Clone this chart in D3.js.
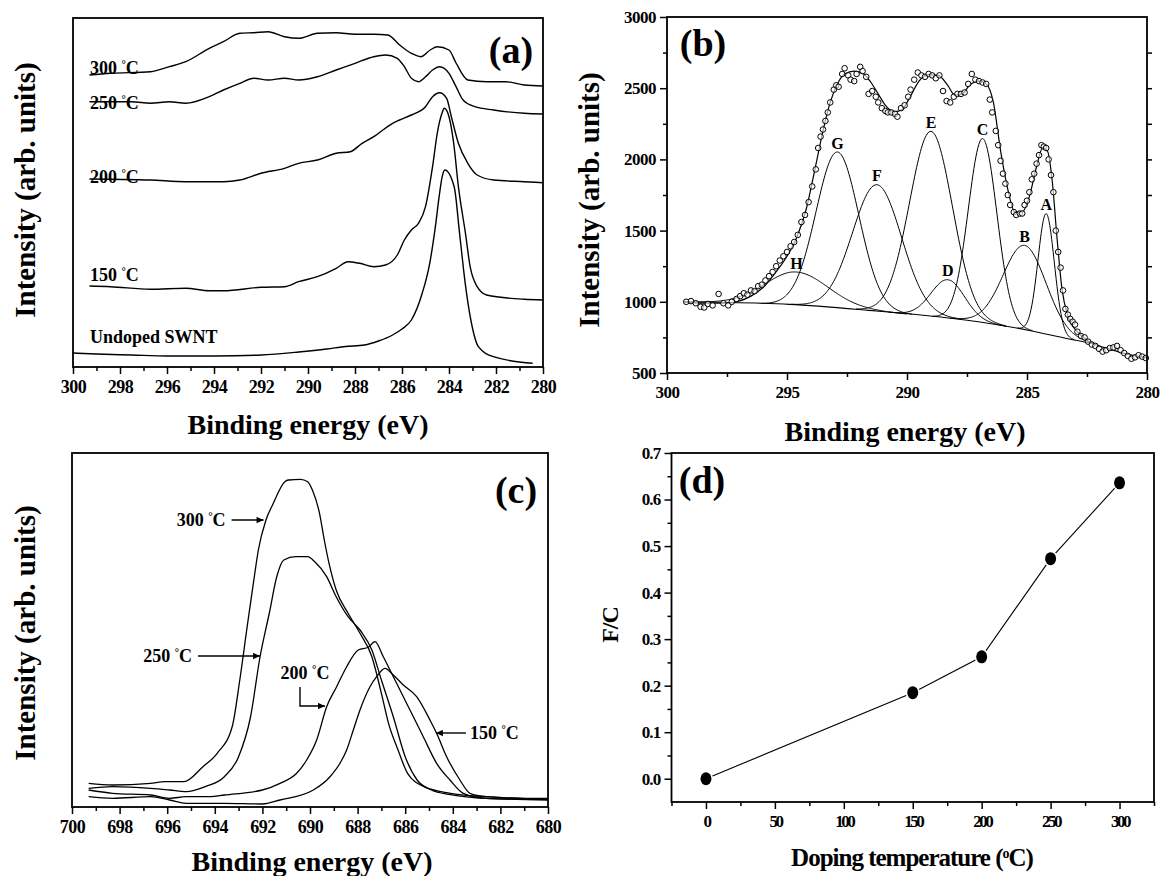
<!DOCTYPE html>
<html>
<head>
<meta charset="utf-8">
<script src="https://cdn.jsdelivr.net/npm/d3@7"></script>
<style>
  body { margin: 0; background: #fff; }
  text { font-family: "Liberation Serif", "Times New Roman", serif; font-weight: bold; fill: #000; }
</style>
</head>
<body>
<svg id="fig" width="1169" height="876"></svg>
<script>
// ---- panel (a): C 1s spectra, [binding energy, intensity] ----
const undopedA = [[300.0,14],[299.0,13],[297.5,12],[296,11],[294,11],[292,12],[290.4,15],[289.2,18],[288.4,20.5],
  [287.6,22],[287.0,26],[286.4,32],[286.0,38],[285.6,47],[285.14,73.7],[284.82,103.7],[284.58,140.3],[284.42,170.3],
  [284.29,190.3],[284.18,197],[283.78,180.3],[283.55,133.7],[283.31,83.7],[283.07,47],[282.75,20.3],[282.11,10.3],[280.44,3.7]];
const curve150A = [[299.3,81],[298.4,80.3],[296.7,77.7],[295.2,78.7],[294.2,76.3],[293.6,76.3],[292.0,79.7],[291.0,80.3],
  [290.4,85.3],[289.6,90.3],[288.8,98.7],[288.3,105.3],[287.8,103.7],[287.2,100.3],[286.7,102],[286.2,112],[285.9,127],
  [285.6,137],[285.3,143.7],[285.0,160.3],[284.7,200.3],[284.5,233.7],[284.3,253.7],[284.2,258.7],[284.0,250.3],
  [283.8,223.7],[283.6,180.3],[283.3,133.7],[283.1,100.3],[282.8,80.3],[282.4,72],[280.8,67.7],[280.0,67]];
const curve200A = [[299.3,188],[298.4,187.7],[296.7,187],[295.2,185.3],[293.6,185.3],[292.9,187],[292.0,193.7],[291.0,198.7],
  [290.4,203.7],[289.6,207],[288.8,213.7],[288.2,215.3],[287.7,223.7],[287.2,230.3],[286.4,243.7],[286.1,247],[285.6,252],
  [285.0,260.3],[284.7,270.3],[284.4,274.3],[284.1,268.7],[283.9,250.3],[283.6,223.7],[283.2,203.7],[282.8,192],
  [282.1,187],[280.8,185.3],[280.0,184.3]];
const curve250A = [[299.3,265.3],[298.4,265.3],[297.5,265.3],[296.7,263.7],[295.9,265.3],[295.2,263.7],[294.2,270.3],
  [293.6,277],[292.9,283.7],[292.3,288.7],[291.7,287],[291.0,288.7],[290.4,287],[289.6,290.3],[288.8,297],[288.0,303.7],
  [287.2,310.3],[286.7,312],[286.2,308.7],[285.9,300.3],[285.6,288.7],[285.3,285.3],[285.0,290.3],[284.7,297],[284.4,300.3],
  [284.0,293.7],[283.7,280.3],[283.4,267],[282.9,260.3],[282.1,257],[280.8,253.7],[280.0,253]];
const curve300A = [[299.3,292],[298.4,293.7],[296.7,295.3],[295.9,300.3],[295.2,305.3],[294.2,318.7],[293.6,325.3],
  [292.9,333.7],[292.3,334.3],[291.7,335.3],[291.0,330.3],[290.4,328.7],[289.6,333.7],[288.8,334.3],[288.0,332.7],
  [287.2,332.7],[286.6,332],[286.1,322],[285.6,313.7],[285.2,310.3],[284.8,317],[284.5,320.3],[284.0,317],[283.7,304],
  [283.2,287],[282.4,285.3],[281.6,285.3],[280.8,282],[280.0,281]];
const labelsA = ["300", "250", "200", "150", "Undoped SWNT"];
const labelValA = [293.5, 258.5, 184.5, 86.5, 24.5];

// ---- panel (b): C 1s peak fit at 300 C ----
const dataB = [[299.2,1000],[299.0,1005],[298.8,990],[298.6,965],[298.45,960],[298.3,985],[298.1,975],[297.85,1055],
  [297.65,990],[297.45,975],[297.3,1000],[297.1,1020],[296.95,1040],[296.8,1060],[296.65,1050],[296.5,1080],[296.35,1075],
  [296.2,1110],[296.05,1120],[295.9,1150],[295.75,1180],[295.6,1210],[295.45,1250],[295.3,1290],[295.15,1320],[295.0,1350],
  [294.85,1390],[294.7,1420],[294.55,1470],[294.4,1560],[294.25,1610],[294.1,1700],[293.95,1810],[293.8,1930],[293.7,2080],
  [293.6,2160],[293.5,2210],[293.4,2270],[293.3,2330],[293.2,2400],[293.05,2490],[292.95,2520],[292.85,2510],[292.7,2600],
  [292.6,2640],[292.45,2590],[292.35,2560],[292.2,2550],[292.1,2600],[291.95,2650],[291.85,2620],[291.7,2580],[291.6,2460],
  [291.45,2480],[291.3,2440],[291.2,2400],[291.05,2360],[290.9,2340],[290.8,2330],[290.65,2330],[290.5,2320],[290.4,2300],
  [290.25,2360],[290.1,2380],[289.95,2440],[289.85,2490],[289.7,2560],[289.55,2610],[289.4,2590],[289.25,2580],[289.1,2600],
  [288.95,2590],[288.8,2570],[288.65,2590],[288.5,2480],[288.35,2410],[288.2,2400],[288.05,2440],[287.9,2460],[287.75,2460],
  [287.6,2470],[287.45,2530],[287.3,2600],[287.15,2560],[287.0,2550],[286.85,2540],[286.7,2530],[286.55,2420],[286.45,2330],
  [286.3,2200],[286.2,2100],[286.1,1990],[286.0,1900],[285.9,1830],[285.8,1750],[285.7,1680],[285.55,1630],[285.45,1610],
  [285.3,1620],[285.2,1620],[285.1,1680],[285.0,1710],[284.9,1770],[284.8,1860],[284.7,1900],[284.6,1970],[284.5,2030],
  [284.4,2100],[284.3,2090],[284.2,2080],[284.1,2000],[284.0,1890],[283.9,1770],[283.8,1500],[283.7,1350],[283.6,1240],
  [283.5,1080],[283.4,950],[283.3,910],[283.2,880],[283.1,860],[283.0,840],[282.9,790],[282.75,760],[282.6,750],[282.45,720],
  [282.3,700],[282.15,690],[282.0,670],[281.85,650],[281.7,660],[281.55,675],[281.4,680],[281.25,690],[281.1,660],
  [280.95,640],[280.8,620],[280.65,600],[280.5,610],[280.35,625],[280.2,615],[280.05,605]];
const fitB = [[299.3,1000],[298.5,990],[297.6,990],[297.0,1005],[296.5,1040],[296.0,1100],[295.5,1200],[295.0,1320],
  [294.6,1450],[294.2,1650],[293.8,1960],[293.5,2200],[293.2,2400],[292.9,2530],[292.6,2600],[292.2,2620],[291.8,2600],
  [291.5,2540],[291.2,2460],[290.9,2380],[290.5,2335],[290.2,2350],[289.9,2430],[289.5,2550],[289.1,2595],[288.7,2590],
  [288.3,2520],[288.0,2450],[287.7,2460],[287.4,2520],[287.0,2550],[286.7,2530],[286.4,2400],[286.1,2060],[285.8,1790],
  [285.5,1630],[285.2,1630],[284.9,1740],[284.6,1950],[284.35,2080],[284.15,2060],[283.95,1850],[283.75,1450],
  [283.55,1100],[283.3,900],[282.9,790],[282.4,720],[281.8,680],[281.2,650],[280.5,620],[280.0,610]];
const bgE = [299.3, 294.9, 291.6, 288.0, 286.5, 284.9, 283.3, 282.2];
const bgI = [1000, 982, 940, 881, 846, 799, 741, 706];
const peakNames  = ["A", "B", "C", "D", "E", "F", "G", "H"];
const peakCenter = [284.2, 285.1, 286.85, 288.3, 289.0, 291.25, 292.9, 294.6];
const peakTop    = [1619, 1396, 2146, 1155, 2197, 1822, 2052, 1209];
const peakFwhm   = [0.8, 2.1, 1.4, 1.65, 2.1, 2.4, 2.1, 3.1];

// ---- panel (c): F 1s spectra ----
const curve300C = [[699.3,23.7],[698.3,22],[696.7,23.7],[696.1,25.3],[695.3,25.3],[694.5,40.3],[693.9,53.7],[693.27,80.3],
  [692.95,127],[692.64,180.3],[692.32,233.7],[692.17,257],[691.85,287],[691.54,303.7],[691.06,325.3],[690.9,327],
  [690.4,327.7],[690.1,325.3],[689.9,317],[689.6,293.7],[689.4,267],[689.2,243.7],[688.9,217],[688.4,193.7],[687.9,173.7],
  [687.4,150.3],[687.0,113.7],[686.7,83.7],[686.3,57],[685.9,33.7],[685.2,20.3],[684.1,13.7],[682.6,10.3],[680.0,7.7]];
const curve250C = [[699.3,18.7],[698.3,20.3],[696.7,18.7],[695.9,17],[695.2,15.3],[694.4,20.3],[693.6,30.3],[693.0,50.3],
  [692.5,90],[692.1,150],[691.7,195],[691.4,230],[691.1,247],[690.6,250.3],[690.1,250.3],[689.8,245.3],[689.3,230.3],
  [688.9,210.3],[688.4,190.3],[687.9,177],[687.4,157],[687.0,127],[686.5,90.3],[686.0,50.3],[685.5,27],[684.9,17],
  [684.1,12.3],[682.6,8.7],[680.0,7.7]];
const curve200C = [[699.3,17],[698.3,13.7],[696.7,12],[695.9,8.7],[695.2,10.3],[694.2,10.3],[693.6,12],[692.0,17],
  [691.26,23.7],[690.56,33.7],[690.14,47],[689.72,67],[689.3,100.3],[688.88,120.3],[688.46,140.3],[687.97,157],
  [687.55,159.7],[687.27,165.3],[686.92,150.3],[686.64,137],[686.36,123.7],[685.8,97],[685.24,70.3],[684.68,43.7],
  [684.12,27],[683.56,13.7],[682.6,8.7],[680.0,7]];
const curve150C = [[699.3,10.3],[698.3,8.7],[696.7,10.3],[695.9,7],[695.2,3.7],[693.6,3.7],[692.0,3],[691.26,7],
  [689.86,17],[689.16,30.3],[688.74,43.7],[688.46,57],[688.18,77],[687.9,97],[687.48,120.3],[687.2,130.3],[686.85,138.7],
  [686.5,132],[686.08,122],[685.52,110.3],[684.96,87],[684.68,73.7],[684.26,50.3],[683.7,27],[683.28,13.7],[682.6,10.3],
  [681.0,8.7],[680.0,8.7]];
const labelsC = ["300", "250", "200", "150"];
const arrowTipC = [[691.95,287],[692.1,151],[689.37,101],[684.71,74]];

// ---- panel (d): F/C ratio ----
const tempD  = [0, 150, 200, 250, 300];
const ratioD = [0.0, 0.185, 0.262, 0.473, 0.636];

// =====================================================================
const SERIF = '"Liberation Serif", "Times New Roman", serif';
const svg = d3.select("#fig");
svg.append("rect").attr("width", 1169).attr("height", 876).attr("fill", "#fff");

svg.append("defs").append("marker")
  .attr("id", "arr").attr("viewBox", "0 0 10 10").attr("refX", 10).attr("refY", 5)
  .attr("markerWidth", 8).attr("markerHeight", 7).attr("markerUnits", "userSpaceOnUse")
  .attr("orient", "auto")
  .append("path").attr("d", "M0,0.5L10,5L0,9.5Z").attr("fill", "#000");

function degText(t, num) {
  t.append("tspan").text(num + " ");
  t.append("tspan").attr("dy", -6).attr("font-size", "0.6em").text("°");
  t.append("tspan").attr("dy", 6).text("C");
}

function frame(x, y) {
  const [x0, x1] = x.range(), [y0, y1] = y.range();
  svg.append("rect")
    .attr("x", Math.min(x0, x1)).attr("y", Math.min(y0, y1))
    .attr("width", Math.abs(x1 - x0)).attr("height", Math.abs(y1 - y0))
    .attr("fill", "none").attr("stroke", "#000").attr("stroke-width", 1.8);
}

function styleAxis(g, size, spacing) {
  g.select(".domain").remove();
  g.attr("font-family", SERIF).attr("font-weight", "bold");
  g.selectAll("line").attr("stroke", "#000").attr("stroke-width", 1.5);
  g.selectAll("text").attr("font-family", SERIF).attr("font-size", size + "px")
    .attr("letter-spacing", spacing).attr("fill", "#000");
}

function xAxis(x, y0, major, minor, fmt, size, spacing) {
  svg.append("g").attr("transform", `translate(0,${y0})`)
    .call(d3.axisBottom(x).tickValues(minor).tickSize(4).tickFormat(""))
    .call(g => styleAxis(g, size, spacing));
  svg.append("g").attr("transform", `translate(0,${y0})`)
    .call(d3.axisBottom(x).tickValues(major).tickSize(7).tickPadding(6).tickFormat(fmt))
    .call(g => styleAxis(g, size, spacing));
}

function yAxis(y, x0, major, minor, fmt, size, spacing) {
  svg.append("g").attr("transform", `translate(${x0},0)`)
    .call(d3.axisLeft(y).tickValues(minor).tickSize(4).tickFormat(""))
    .call(g => styleAxis(g, size, spacing));
  svg.append("g").attr("transform", `translate(${x0},0)`)
    .call(d3.axisLeft(y).tickValues(major).tickSize(7).tickPadding(4).tickFormat(fmt))
    .call(g => styleAxis(g, size, spacing));
}

function title(x, y, txt, size, rotate, spacing) {
  const t = svg.append("text").attr("font-size", size + "px").attr("text-anchor", "middle")
    .attr("letter-spacing", spacing || 0).attr("dy", "0.35em")
    .attr("transform", `translate(${x},${y})` + (rotate ? " rotate(-90)" : ""));
  t.text(txt);
  return t;
}

function drawCurve(data, x, y, w) {
  svg.append("path").datum(data)
    .attr("fill", "none").attr("stroke", "#000").attr("stroke-width", w)
    .attr("stroke-linejoin", "round")
    .attr("d", d3.line().x(d => x(d[0])).y(d => y(d[1])).curve(d3.curveMonotoneX));
}

// ---------------- panel (a) ----------------
const xA = d3.scaleLinear().domain([300, 280]).range([73, 543]);
const yA = d3.scaleLinear().domain([0, 349]).range([367, 18]);
[undopedA, curve150A, curve200A, curve250A, curve300A].forEach(c => drawCurve(c, xA, yA, 1.4));
frame(xA, yA);
xAxis(xA, 367, d3.range(300, 279, -2), d3.range(299, 280, -2), d3.format("d"), 18, -0.5);
labelsA.forEach((lab, i) => {
  const t = svg.append("text").attr("x", xA(299.28)).attr("y", yA(labelValA[i])).attr("font-size", "18px");
  if (i < 4) degText(t, lab); else t.text(lab);
});
title(308, 424, "Binding energy (eV)", 28);
title(25, 190, "Intensity (arb. units)", 29, true);
title(511, 50, "(a)", 38);

// ---------------- panel (b) ----------------
const xB = d3.scaleLinear().domain([300, 280]).range([667, 1147]);
const yB = d3.scaleLinear().domain([500, 3000]).range([373, 17]);
const bgAt = d3.scaleLinear().domain(bgE).range(bgI).clamp(true);
drawCurve(bgE.map((e, i) => [e, bgI[i]]), xB, yB, 1.1);
peakNames.forEach((name, i) => {
  const c = peakCenter[i], s = peakFwhm[i] / 2.3548, amp = peakTop[i] - bgAt(c);
  const lo = Math.max(282.2, c - 3.5 * s), hi = Math.min(299.3, c + 3.5 * s);
  const pts = d3.range(hi, lo, -0.04).map(e => [e, bgAt(e) + amp * Math.exp(-0.5 * ((e - c) / s) ** 2)]);
  drawCurve(pts, xB, yB, 1.0);
  svg.append("text").attr("x", xB(c)).attr("y", yB(peakTop[i]) - 9).attr("dy", "0.35em")
    .attr("text-anchor", "middle").attr("font-size", "16px").text(name);
});
drawCurve(fitB, xB, yB, 1.2);
svg.append("g").selectAll("circle").data(dataB).join("circle")
  .attr("cx", d => xB(d[0])).attr("cy", d => yB(d[1])).attr("r", 2.8)
  .attr("fill", "#fff").attr("fill-opacity", 0.6).attr("stroke", "#000").attr("stroke-width", 1);
frame(xB, yB);
xAxis(xB, 373, d3.range(300, 279, -5), d3.range(297.5, 280, -5), d3.format("d"), 17, -0.5);
yAxis(yB, 667, d3.range(500, 3001, 500), d3.range(750, 3000, 500), d3.format("d"), 17, -0.5);
svg.append("g").attr("transform", "translate(1147,0)")
  .call(d3.axisLeft(yB).tickValues(d3.range(750, 3000, 250)).tickSize(-5).tickFormat(""))
  .call(g => styleAxis(g, 16, 0));
title(905, 431, "Binding energy (eV)", 28);
title(589, 200, "Intensity (arb. units)", 29, true);
title(703, 43, "(b)", 38);

// ---------------- panel (c) ----------------
const xC = d3.scaleLinear().domain([700, 680]).range([72, 548]);
const yC = d3.scaleLinear().domain([0, 354]).range([807, 453]);
[curve150C, curve200C, curve250C, curve300C].forEach(c => drawCurve(c, xC, yC, 1.3));
frame(xC, yC);
xAxis(xC, 807, d3.range(700, 679, -2), d3.range(699, 680, -2), d3.format("d"), 18, -0.5);
// arrows + labels
labelsC.forEach((lab, i) => {
  const tx = xC(arrowTipC[i][0]), ty = yC(arrowTipC[i][1]);
  let d, lx, ly, anchor;
  if (i === 0) { d = `M${tx - 32},${ty}H${tx}`; lx = tx - 38; ly = ty; anchor = "end"; }
  else if (i === 1) { d = `M${tx - 62},${ty}H${tx}`; lx = tx - 68; ly = ty; anchor = "end"; }
  else if (i === 2) { d = `M${tx - 25},${ty - 19}V${ty}H${tx}`; lx = tx - 20; ly = ty - 33; anchor = "middle"; }
  else { d = `M${tx + 30},${ty}H${tx}`; lx = tx + 34; ly = ty; anchor = "start"; }
  svg.append("path").attr("d", d).attr("fill", "none").attr("stroke", "#000")
    .attr("stroke-width", 1.4).attr("marker-end", "url(#arr)");
  const t = svg.append("text").attr("x", lx).attr("y", ly).attr("dy", "0.35em")
    .attr("text-anchor", anchor).attr("font-size", "18px");
  degText(t, lab);
});
title(312, 861, "Binding energy (eV)", 28);
title(25, 633, "Intensity (arb. units)", 29, true);
title(516, 490, "(c)", 38);

// ---------------- panel (d) ----------------
const xD = d3.scaleLinear().domain([-25, 325]).range([671.5, 1154]);
const yD = d3.scaleLinear().domain([-0.05, 0.7]).range([802, 453]);
const ptsD = tempD.map((t, i) => [t, ratioD[i]]);
svg.append("path").datum(ptsD).attr("fill", "none").attr("stroke", "#000").attr("stroke-width", 1.1)
  .attr("d", d3.line().x(d => xD(d[0])).y(d => yD(d[1])));
svg.append("g").selectAll("ellipse").data(ptsD).join("ellipse")
  .attr("cx", d => xD(d[0])).attr("cy", d => yD(d[1])).attr("rx", 5.5).attr("ry", 6.5)
  .attr("fill", "#000").attr("stroke", "#fff").attr("stroke-width", 3).attr("paint-order", "stroke");
frame(xD, yD);
xAxis(xD, 802, d3.range(0, 301, 50), d3.range(-25, 326, 50), d3.format("d"), 17, -2.5);
yAxis(yD, 671.5, d3.range(0, 0.71, 0.1), d3.range(0.05, 0.7, 0.1), d3.format(".1f"), 17, -0.8);
const td = svg.append("text").attr("x", 912).attr("y", 857).attr("dy", "0.35em")
  .attr("text-anchor", "middle").attr("font-size", "25px").attr("letter-spacing", -1);
td.append("tspan").text("Doping temperature (");
td.append("tspan").attr("dy", -8).attr("font-size", "14px").text("o");
td.append("tspan").attr("dy", 8).text("C)");
title(610, 625, "F/C", 24, true, -1);
title(702, 480, "(d)", 38);
</script>
</body>
</html>
